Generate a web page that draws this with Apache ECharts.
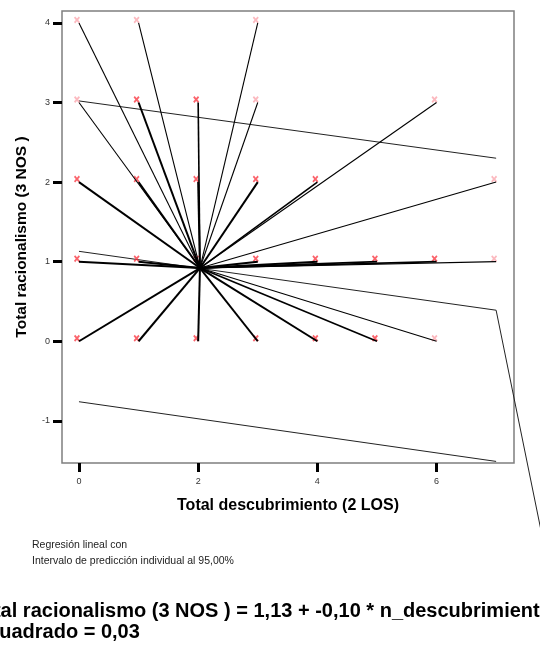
<!DOCTYPE html>
<html>
<head>
<meta charset="utf-8">
<script src="https://cdn.jsdelivr.net/npm/echarts@6/dist/echarts.min.js"></script>
<style>
html,body{margin:0;padding:0;background:#fff;}
#chart{width:540px;height:645px;}
</style>
</head>
<body>
<div id="chart"></div>
<script>
// ---- Data ----
// Observed points: [x (Total descubrimiento), y (Total racionalismo), count]
var pointsX =     [0,1,3,  0,1,2,3,6,  0,1,2,3,4,7,  0,1,2,3,4,5,6,7,  0,1,2,3,4,5,6];
var pointsY =     [4,4,4,  3,3,3,3,3,  2,2,2,2,2,2,  1,1,1,1,1,1,1,1,  0,0,0,0,0,0,0];
var pointsCount = [1,1,1,  1,3,2,1,1,  3,4,3,3,2,1,  5,4,3,4,3,2,2,1,  4,3,3,3,3,2,1];
// Centroid the spikes go to
var centroidX = 2.03;
var centroidY = 0.92;
// Regression line and 95% individual prediction interval (x, y)
var fitX = [0, 7];
var fitY = [1.13, 0.39];
var upperX = [0, 7];
var upperY = [3.02, 2.30];
var lowerX = [0, 7];
var lowerY = [-0.76, -1.51];
// stray segment leaving the fit line end (drawn beyond the frame)
var strayX = [7, 7.8];
var strayY = [0.39, -2.55];
// ticks
var xTicks = [0, 2, 4, 6];
var yTicks = [-1, 0, 1, 2, 3, 4];

function pairs(xs, ys){ return xs.map(function(x,i){ return [x, ys[i]]; }); }

var spikeData = pointsX.map(function(x,i){
  var c = pointsCount[i];
  return {
    coords: [[centroidX, centroidY], [x, pointsY[i]]],
    lineStyle: { width: c >= 3 ? 2 : (c === 2 ? 1.6 : 1.1) }
  };
});
var markerData = pointsX.map(function(x,i){
  var c = pointsCount[i];
  return {
    value: [x, pointsY[i]],
    itemStyle: { color: c >= 2 ? 'rgba(250,50,60,0.95)' : 'rgba(250,130,140,0.7)' }
  };
});

var FONT = 'Liberation Sans, Arial, sans-serif';
var xSym = 'path://M0,2L2,0L5,3L8,0L10,2L7,5L10,8L8,10L5,7L2,10L0,8L3,5Z';

var chart = echarts.init(document.getElementById('chart'), null, {renderer:'canvas'});
chart.setOption({
  animation: false,
  backgroundColor: '#fff',
  grid: { left: 62, top: 11, width: 452, height: 452, show: true,
          borderColor: '#7f7f7f', borderWidth: 1.5, backgroundColor: 'transparent' },
  xAxis: {
    type: 'value', min: -0.285, max: 7.3,
    name: 'Total descubrimiento (2 LOS)', nameLocation: 'middle', nameGap: 35,
    nameTextStyle: { fontFamily: FONT, fontWeight: 'bold', fontSize: 16, color: '#000' },
    axisLine: { show: false, onZero: false },
    splitLine: { show: false },
    axisTick: { show: true, customValues: xTicks, length: 9, lineStyle: { color: '#000', width: 3 } },
    axisLabel: { customValues: xTicks, fontFamily: FONT, fontSize: 9, color: '#333', margin: 14 }
  },
  yAxis: {
    type: 'value', min: -1.53, max: 4.15,
    name: 'Total racionalismo (3 NOS )', nameLocation: 'middle', nameGap: 32,
    nameTextStyle: { fontFamily: FONT, fontWeight: 'bold', fontSize: 15.5, color: '#000' },
    axisLine: { show: false, onZero: false },
    splitLine: { show: false },
    axisTick: { show: true, customValues: yTicks, length: 9, lineStyle: { color: '#000', width: 3 } },
    axisLabel: { customValues: yTicks, fontFamily: FONT, fontSize: 9, color: '#333', margin: 12 }
  },
  series: [
    { type: 'line', data: pairs(upperX, upperY), symbol: 'none', lineStyle: { color: '#222', width: 1 }, z: 2 },
    { type: 'line', data: pairs(lowerX, lowerY), symbol: 'none', lineStyle: { color: '#222', width: 1 }, z: 2 },
    { type: 'line', data: pairs(fitX, fitY), symbol: 'none', lineStyle: { color: '#222', width: 1 }, z: 2 },
    { type: 'lines', coordinateSystem: 'cartesian2d', clip: false, silent: true,
      data: [{ coords: pairs(strayX, strayY) }], lineStyle: { color: '#222', width: 1, opacity: 1 }, z: 2 },
    { type: 'scatter', data: markerData, symbol: xSym, symbolSize: [6, 7], symbolOffset: [-2, -3], z: 3 },
    { type: 'lines', coordinateSystem: 'cartesian2d', data: spikeData,
      lineStyle: { color: '#000', opacity: 1 }, z: 4, silent: true }
  ],
  graphic: [
    { type: 'text', left: 32, top: 540, style: { text: 'Regresión lineal con', font: '10.5px ' + FONT, fill: '#222' } },
    { type: 'text', left: 32, top: 556, style: { text: 'Intervalo de predicción individual al 95,00%', font: '10.5px ' + FONT, fill: '#222' } },
    { type: 'text', x: -29, y: 601, style: { text: 'Total racionalismo (3 NOS ) = 1,13 + -0,10 * n_descubrimiento', font: 'bold 20px ' + FONT, fill: '#000' } },
    { type: 'text', x: -33, y: 622, style: { text: 'R-cuadrado = 0,03', font: 'bold 20px ' + FONT, fill: '#000' } }
  ]
});
</script>
</body>
</html>
